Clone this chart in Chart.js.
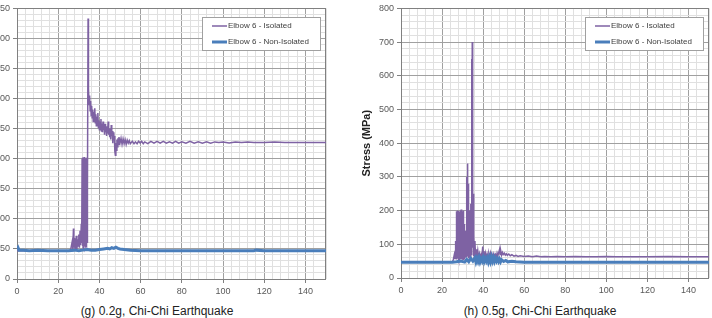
<!DOCTYPE html>
<html>
<head>
<meta charset="utf-8">
<script src="https://cdn.jsdelivr.net/npm/chart.js@4.4.0/dist/chart.umd.min.js"></script>
<style>
  body { margin: 0; background: #fff; width: 712px; height: 318px; overflow: hidden; position: relative; }
  .panel { position: absolute; top: 0; }
  .caption { position: absolute; top: 304px; font: 12px "Liberation Sans", Arial, sans-serif; color: #222; white-space: nowrap; transform: translateX(-50%); }
</style>
</head>
<body>
<div class="panel" style="left:-24px"><canvas id="chart-g" width="353" height="300"></canvas></div>
<div class="panel" style="left:360px"><canvas id="chart-h" width="352" height="300"></canvas></div>
<div class="caption" style="left:157px">(g) 0.2g, Chi-Chi Earthquake</div>
<div class="caption" style="left:540px">(h) 0.5g, Chi-Chi Earthquake</div>
<script>
// Series labels
const seriesLabels = ['Elbow 6 - Isolated', 'Elbow 6 - Non-Isolated'];

// (g) 0.2g - isolated, [time s, stress MPa]
const gIsolated = [
  [0,47],[5,47],[10,47],[15,47],[20,47],[25,47],[26,48],[26.4,55],[26.8,62],[27.1,50],[27.4,84],[27.6,52],
  [27.9,68],[28.2,48],[28.5,60],[28.8,72],[29.1,50],[29.4,66],[29.7,55],[30.0,74],[30.3,52],[30.6,80],
  [30.9,56],[31.2,92],[31.4,60],[31.6,200],[31.7,55],[31.8,202],[31.9,60],[32.0,198],[32.1,52],[32.2,201],
  [32.3,58],[32.4,199],[32.5,50],[32.6,203],[32.7,62],[32.8,200],[32.9,54],[33.0,202],[33.1,60],[33.2,197],
  [33.3,52],[33.4,201],[33.5,58],[33.6,200],[33.7,110],[33.8,199],[33.9,56],[34.0,202],[34.1,60],[34.2,198],
  [34.3,150],[34.5,433],[34.6,300],[34.8,316],[35.0,290],[35.25,305],[35.5,280],[35.75,296],[36,272],
  [36.25,288],[36.5,268],[36.75,282],[37,262],[37.25,278],[37.5,266],[37.75,284],[38,260],[38.25,274],
  [38.5,255],[38.75,270],[39,262],[39.25,276],[39.5,252],[39.75,264],[40,248],[40.25,262],[40.5,250],
  [40.75,266],[41,246],[41.25,258],[41.5,244],[41.75,262],[42,248],[42.25,256],[42.5,240],[42.75,258],
  [43,244],[43.25,252],[43.5,238],[43.75,254],[44,242],[44.25,262],[44.5,240],[44.75,250],[45,236],
  [45.25,248],[45.5,232],[45.75,256],[46,238],[46.25,246],[46.5,226],[46.75,244],[47,232],[47.25,238],
  [47.5,212],[47.75,206],[48,226],[48.25,214],[48.5,232],[48.75,220],[49,234],[49.25,224],[49.5,236],
  [50,226],[50.5,234],[51,224],[51.5,233],[52,225],[52.5,232],[53,224],[53.5,231],[54,226],[54.5,230],
  [55,225],[56,229],[56.8,225],[57.5,228],[58.3,225],[59,229],[59.8,226],[60.5,229],[61.3,225],[62,228],
  [63.5,225],[65,229],[66.5,226],[68,229],[69.5,226],[71,229],[72.5,226],[74,228],[75.5,226],[77,229],
  [78.5,226],[80,228],[82,226],[84,229],[86,226],[88,228],[90,226],[92,228],[94,226],[96,228],[98,227],
  [100,228],[103,226],[106,228],[109,227],[112,228],[115,227],[120,227],[125,228],[130,227],[135,227],
  [140,227],[145,227],[150,227]
];

// (g) 0.2g - non-isolated
const gNonIsolated = [
  [0,49],[0.5,52],[1,48],[3,48],[6,47],[10,48],[15,47],[20,47],[25,47],[28,48],[30,47],[32,48],[34,49],
  [36,48],[38,48],[40,49],[42,50],[44,51],[45,50],[46,52],[47,51],[48,53],[49,51],[50,50],[52,49],[55,48],
  [60,47],[70,47],[80,47],[90,47],[100,47],[110,47],[115,47],[116,48],[120,47],[130,47],[140,47],[150,47]
];

// (h) 0.5g - isolated
const hIsolated = [
  [0,47],[10,47],[20,47],[25,47],[25.5,55],[26,70],[26.3,58],[26.6,110],[26.8,65],[26.9,150],[27.0,60],
  [27.1,198],[27.2,55],[27.3,196],[27.4,70],[27.5,200],[27.6,58],[27.7,185],[27.8,62],[27.9,199],[28.0,55],
  [28.1,180],[28.2,65],[28.3,197],[28.4,60],[28.5,175],[28.6,52],[28.7,190],[28.8,68],[28.9,200],[29.0,57],
  [29.1,195],[29.2,62],[29.3,203],[29.4,55],[29.5,188],[29.6,70],[29.7,200],[29.8,58],[29.9,170],[30.0,62],
  [30.1,198],[30.2,55],[30.3,185],[30.4,66],[30.5,200],[30.6,58],[30.7,160],[30.8,60],[30.9,130],[31.0,55],
  [31.2,120],[31.4,60],[31.6,140],[31.8,70],[31.9,280],[32.0,62],[32.1,300],[32.2,75],[32.3,340],[32.4,90],
  [32.5,320],[32.6,65],[32.7,280],[32.8,70],[32.9,250],[33.0,58],[33.2,200],[33.4,60],[33.6,150],[33.8,55],
  [34.0,220],[34.2,70],[34.4,650],[34.5,120],[34.7,700],[34.9,90],[35.1,250],[35.3,65],[35.5,130],[35.7,60],
  [36.0,110],[36.3,65],[36.6,85],[37.0,60],[37.4,80],[37.8,58],[38.2,72],[38.6,60],[39.0,70],[39.4,62],
  [39.8,93],[40.1,60],[40.4,80],[40.8,62],[41.2,74],[41.6,58],[42.0,70],[42.4,60],[42.8,72],[43.2,62],
  [43.6,74],[44.0,60],[44.4,70],[44.8,62],[45.2,72],[45.6,64],[46.0,70],[46.4,62],[46.8,74],[47.2,66],
  [47.6,76],[48.0,85],[48.3,70],[48.6,80],[49.0,68],[49.4,76],[49.8,70],[50.3,74],[50.8,68],[51.3,72],
  [51.8,67],[52.5,71],[53.2,66],[54,69],[55,65],[56,67],[57,64],[58,66],[60,64],[62,65],[64,63],[66,65],
  [68,63],[70,64],[73,63],[76,64],[80,63],[85,64],[90,63],[95,63],[100,64],[105,63],[110,63],[120,63],
  [130,64],[140,63],[150,63]
];

// (h) 0.5g - non-isolated
const hNonIsolated = [
  [0,47],[10,47],[20,47],[25,47],[27,48],[29,50],[31,47],[32,55],[33,48],[34,58],[35,50],[36,60],[36.5,48],
  [37,58],[37.5,49],[38,60],[38.5,48],[39,57],[39.5,50],[40,60],[40.5,49],[41,58],[41.5,50],[42,59],
  [42.5,48],[43,60],[43.5,49],[44,62],[44.5,50],[45,60],[45.5,49],[46,58],[46.5,50],[47,57],[47.5,49],
  [48,56],[48.5,48],[49,54],[50,49],[51,52],[52,48],[54,50],[56,48],[60,47],[80,47],[100,47],[150,47]
];

const purple = '#7e62a3';
const blue = '#4a7ebb';

// plot border and boxed legend
const frameLegend = {
  id: 'frameLegend',
  beforeDatasetsDraw(chart) {
    const a = chart.chartArea, c = chart.ctx;
    c.save();
    c.strokeStyle = '#808080';
    c.lineWidth = 1;
    c.strokeRect(Math.round(a.left) + 0.5, Math.round(a.top) + 0.5, Math.round(a.right - a.left) - 1, Math.round(a.bottom - a.top));
    c.restore();
  },
  afterDraw(chart) {
    const a = chart.chartArea, c = chart.ctx;
    const w = 118, h = 33;
    const left = Math.round(a.right - 6 - w), top = Math.round(a.top + 9);
    c.save();
    c.fillStyle = '#fff';
    c.fillRect(left, top, w, h);
    c.strokeStyle = '#a0a0a0';
    c.strokeRect(left + 0.5, top + 0.5, w, h);
    c.font = '8px "Liberation Sans", Arial, sans-serif';
    c.textBaseline = 'middle';
    c.fillStyle = '#404040';
    const rows = [[seriesLabels[0], purple, 1.5], [seriesLabels[1], blue, 3]];
    rows.forEach((r, i) => {
      const y = top + 9 + i * 16;
      c.strokeStyle = r[1];
      c.lineWidth = r[2];
      c.beginPath();
      c.moveTo(left + 10, y);
      c.lineTo(left + 25, y);
      c.stroke();
      c.fillText(r[0], left + 26, y);
    });
    c.restore();
  }
};

const toPoints = arr => arr.map(p => ({ x: p[0], y: p[1] }));

const makeChart = (id, iso, nonIso, yMax, yMinor, yMajor, xAxisH, showTitle) => {
  const tickFont = { family: '"Liberation Sans", Arial, sans-serif', size: 9 };
  return new Chart(document.getElementById(id), {
    type: 'line',
    data: {
      datasets: [
        { label: seriesLabels[0], data: toPoints(iso), borderColor: purple, borderWidth: 1.5, pointRadius: 0, tension: 0, order: 1 },
        { label: seriesLabels[1], data: toPoints(nonIso), borderColor: blue, borderWidth: 3, pointRadius: 0, tension: 0, order: 0 }
      ]
    },
    options: {
      responsive: false,
      animation: false,
      devicePixelRatio: 1,
      layout: { padding: { top: 5, right: 0, bottom: 0, left: 0 } },
      plugins: { legend: { display: false }, tooltip: { enabled: false } },
      scales: {
        x: {
          type: 'linear', min: 0, max: 150,
          afterFit: s => { s.height = xAxisH; },
          ticks: {
            stepSize: 4, autoSkip: false, maxRotation: 0, padding: 3,
            color: '#595959', font: tickFont,
            callback: v => (v % 20 === 0 ? String(v) : '')
          },
          grid: {
            color: ctx => (ctx.tick && ctx.tick.value % 20 === 0 ? '#a0a0a0' : '#e0e0e0'),
            tickColor: ctx => (ctx.tick && ctx.tick.value % 20 === 0 ? '#808080' : 'rgba(0,0,0,0)'),
            tickLength: 4, lineWidth: 1
          },
          border: { display: false }
        },
        y: {
          min: 0, max: yMax,
          afterFit: s => { s.width = 41; },
          title: {
            display: showTitle, text: 'Stress (MPa)', color: '#222',
            font: { family: '"Liberation Sans", Arial, sans-serif', size: 11, weight: 'bold' },
            padding: { top: 0, bottom: 0 }
          },
          ticks: {
            stepSize: yMinor, autoSkip: false, padding: 3,
            color: '#595959', font: tickFont,
            callback: v => (v % yMajor === 0 ? String(v) : '')
          },
          grid: {
            color: ctx => (ctx.tick && ctx.tick.value % yMajor === 0 ? '#a0a0a0' : '#e0e0e0'),
            tickColor: ctx => (ctx.tick && ctx.tick.value % yMajor === 0 ? '#808080' : 'rgba(0,0,0,0)'),
            tickLength: 4, lineWidth: 1
          },
          border: { display: false }
        }
      }
    },
    plugins: [frameLegend]
  });
};

makeChart('chart-g', gIsolated, gNonIsolated, 450, 10, 50, 21, false);
makeChart('chart-h', hIsolated, hNonIsolated, 800, 20, 100, 22, true);
</script>
</body>
</html>
